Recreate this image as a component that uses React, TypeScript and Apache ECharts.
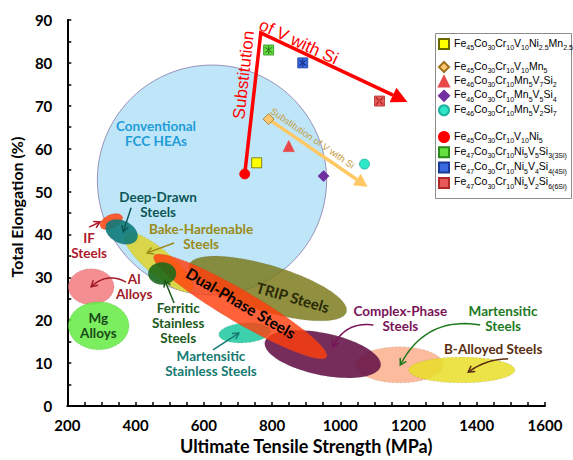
import { useEffect, useRef } from 'react';
import * as echarts from 'echarts';

// ---------- data ----------
const alloyNames = [
  'Fe45Co30Cr10V10Ni2.5Mn2.5',
  'Fe45Co30Cr10V10Mn5',
  'Fe46Co30Cr10Mn5V7Si2',
  'Fe46Co30Cr10Mn5V5Si4',
  'Fe46Co30Cr10Mn5V2Si7',
  'Fe45Co30Cr10V10Ni5',
  'Fe47Co30Cr10Ni5V5Si3(3Si)',
  'Fe47Co30Cr10Ni5V4Si4(4Si)',
  'Fe47Co30Cr10Ni5V2Si6(6Si)',
];
const alloyUTS = [755, 790, 849, 951, 1071, 720, 790, 890, 1115];
const alloyElongation = [56.7, 66.9, 60.6, 53.6, 56.4, 54.1, 83.0, 80.0, 71.1];

// material classes: ends of major axis (UTS MPa, elongation %) and half width (%)
const regionNames = [
  'Conventional FCC HEAs', 'TRIP Steels', 'Martensitic Steels', 'Complex-Phase Steels',
  'B-Alloyed Steels', 'Martensitic Stainless Steels', 'Bake-Hardenable Steels', 'Dual-Phase Steels',
  'Ferritic Stainless Steels', 'IF Steels', 'Deep-Drawn Steels', 'Al Alloys', 'Mg Alloys',
];
const regionStart = [
  [288, 52.7], [557, 32.9], [1045, 9.6], [779, 14.9], [1200, 8.4], [644, 16.6], [369, 40.1],
  [454, 35.0], [437, 30.9], [297, 41.8], [314, 42.3], [203, 27.8], [203, 18.7],
];
const regionEnd = [
  [960, 52.7], [1018, 21.9], [1302, 9.6], [1118, 9.3], [1512, 8.4], [796, 17.5], [566, 26.9],
  [960, 11.4], [519, 30.9], [361, 44.2], [404, 38.9], [337, 27.8], [381, 18.7],
];
const regionHalfWidth = [26.8, 5.4, 4.2, 4.9, 3.0, 2.3, 3.0, 3.7, 2.6, 1.6, 2.6, 4.2, 5.6];

const regionLabels = [
  'Conventional\nFCC HEAs', 'TRIP Steels', 'Martensitic\nSteels', 'Complex-Phase\nSteels',
  'B-Alloyed Steels', 'Martensitic\nStainless Steels', 'Bake-Hardenable\nSteels', 'Dual-Phase Steels',
  'Ferritic\nStainless\nSteels', 'IF\nSteels', 'Deep-Drawn\nSteels', 'Al\nAlloys', 'Mg\nAlloys',
];
const labelUTS = [460, 861, 1477, 1176, 1448, 621, 592, 709, 525, 264, 466, 396, 291];
const labelElongation = [63.5, 25.4, 20.3, 20.4, 13.3, 9.9, 39.5, 24.0, 19.4, 37.5, 47.0, 27.9, 18.8];
const labelTilt = [0, -16, 0, 0, 0, 0, 0, -30.5, 0, 0, 0, 0, 0];

// pointer arrows from labels to classes
const pointerRegion = [9, 10, 6, 11, 8, 5, 3, 2, 4];
const pointerFrom = [[264, 41.7], [387, 46.2], [513, 38.0], [372, 28.9], [513, 24.0], [627, 13.1], [1097, 18.9], [1410, 18.9], [1492, 11.0]];
const pointerTo = [[296, 42.9], [364, 40.6], [434, 35.7], [270, 27.8], [486, 29.2], [703, 17.0], [978, 13.8], [1176, 9.6], [1375, 7.9]];
const pointerBend = [0, 0, 0, 0.18, 0, 0, 0.18, 0.18, 0.08];

// substitution arrows
const substitutionPaths = [
  [[720, 54.1], [767, 87.0], [1197, 70.9]],
  [[790, 66.9], [1080, 51.1]],
];
const substitutionNotes = ['Substitution', 'of V with Si', 'Substitution of V with Si'];
const noteUTS = [717, 878, 919];
const noteElongation = [77.2, 84.9, 62.5];
const noteTilt = [83.5, -25, -34.5];

// ---------- styles ----------
const regionFill = [
  '#BFE6F8', 'rgba(120,120,22,0.82)', 'rgba(252,178,142,0.88)', 'rgba(104,22,74,0.9)',
  'rgba(232,222,40,0.85)', 'rgba(34,202,162,0.88)', 'rgba(222,210,42,0.85)', 'rgba(255,62,12,0.82)',
  'rgba(25,105,25,0.88)', 'rgba(255,72,22,0.88)', 'rgba(14,122,122,0.9)', 'rgba(242,122,126,0.85)',
  'rgba(104,236,72,0.88)',
];
const labelColor = [
  '#1E9CD8', '#2A2A08', '#1E7A1E', '#7A1458', '#5A2E0E', '#157A72', '#9A8A1A', '#000000',
  '#1C5A1C', '#B0182A', '#0C5656', '#A01A28', '#1A4A1A',
];
const alloySymbols = ['rect', 'diamond', 'triangle', 'diamond', 'circle', 'circle', 'rect', 'rect', 'rect'];
const alloyColors = ['#FFFF00', '#FFC870', '#E8484A', '#7030A0', '#2EE6C8', '#FF0000', '#66E040', '#3A6AE0', '#E85A5A'];
const alloyBorders = ['#6A6A00', '#A07020', '#E8484A', '#7030A0', '#20B0A0', '#FF0000', '#2A8A1A', '#1A3A9A', '#B02A2A'];
const alloySizes = [10, 11, 11, 11, 10, 10, 10, 10, 10];
const overlayMark = ['', '', '', '', '', '', 'star', 'star', 'cross'];
const overlayColor = ['', '', '', '', '', '', '#155A10', '#0A1A6A', '#A01A1A'];
const starPath = 'path://M4.6,1L5.4,1L5.4,9L4.6,9Z M2,2.6L2.6,2L8,7.4L7.4,8Z M8,2.6L7.4,2L2,7.4L2.6,8Z';
const crossPath = 'path://M2,2.7L2.7,2L8,7.3L7.3,8Z M8,2.7L7.3,2L2,7.3L2.7,8Z';
const substitutionColor = ['#FF0000', '#FFC864'];
const noteColor = ['#FF0000', '#FF0000', '#C49A3C'];
const labelFont = 'Lato';

function legendFormatter(name: string) {
  const m = name.match(/^(.*?)(\(\dSi\))?$/) as RegExpMatchArray;
  let out = m[1].replace(/([A-Za-z]+)|(\d+(?:\.\d+)?)/g, (_s: string, a: string, d: string) =>
    a ? `{n|${a}}` : `{s|${d}}`);
  if (m[2]) out += `{s|${m[2]}}`;
  return out;
}

const legendRich = {
  n: { fontFamily: 'Liberation Sans', fontSize: 10.5, color: '#000', lineHeight: 14, verticalAlign: 'top' },
  s: { fontFamily: 'Liberation Sans', fontSize: 7, color: '#000', lineHeight: 8, verticalAlign: 'bottom' },
};

function ellipsePoints(p1: number[], p2: number[], b: number) {
  const cx = (p1[0] + p2[0]) / 2;
  const cy = (p1[1] + p2[1]) / 2;
  const a = Math.hypot(p2[0] - p1[0], p2[1] - p1[1]) / 2;
  const th = Math.atan2(p2[1] - p1[1], p2[0] - p1[0]);
  const pts: number[][] = [];
  for (let k = 0; k < 96; k++) {
    const t = (k / 96) * Math.PI * 2;
    const ex = a * Math.cos(t);
    const ey = b * Math.sin(t);
    pts.push([cx + ex * Math.cos(th) - ey * Math.sin(th), cy + ex * Math.sin(th) + ey * Math.cos(th)]);
  }
  return pts;
}

function curvePoints(a: number[], b: number[], bend: number) {
  if (!bend) return [a, b];
  const dx = b[0] - a[0];
  const dy = b[1] - a[1];
  const len = Math.hypot(dx, dy);
  const cx = (a[0] + b[0]) / 2 + (-dy / len) * bend * len * 2;
  const cy = (a[1] + b[1]) / 2 + (dx / len) * bend * len * 2;
  const pts: number[][] = [];
  for (let k = 0; k <= 20; k++) {
    const t = k / 20;
    const u = 1 - t;
    pts.push([u * u * a[0] + 2 * u * t * cx + t * t * b[0], u * u * a[1] + 2 * u * t * cy + t * t * b[1]]);
  }
  return pts;
}

function headGeom(pts: number[][], len: number, half: number) {
  const tip = pts[pts.length - 1];
  const prev = pts[pts.length - 2];
  const dx = tip[0] - prev[0];
  const dy = tip[1] - prev[1];
  const l = Math.hypot(dx, dy) || 1;
  const ux = dx / l;
  const uy = dy / l;
  const base = [tip[0] - ux * len, tip[1] - uy * len];
  return {
    tip,
    base,
    left: [base[0] - uy * half, base[1] + ux * half],
    right: [base[0] + uy * half, base[1] - ux * half],
  };
}

export default function App() {
  const ref = useRef<HTMLDivElement>(null);

  useEffect(() => {
    document.body.style.margin = '0';
    const chart = echarts.init(ref.current as HTMLDivElement, null, { renderer: 'svg' });

    const scatterSeries = alloyNames.map((name, i) => ({
      name,
      type: 'scatter',
      z: 5,
      symbol: alloySymbols[i],
      symbolSize: alloySizes[i],
      itemStyle: { color: alloyColors[i], borderColor: alloyBorders[i], borderWidth: 0.8, opacity: 1 },
      data: [[alloyUTS[i], alloyElongation[i]]],
      silent: true,
    }));

    const overlaySeries = alloyNames
      .map((_n, i) => i)
      .filter((i) => overlayMark[i])
      .map((i) => ({
        name: 'mark' + i,
        type: 'scatter',
        z: 6,
        symbol: overlayMark[i] === 'star' ? starPath : crossPath,
        symbolSize: 8,
        itemStyle: { color: overlayColor[i] },
        data: [[alloyUTS[i], alloyElongation[i]]],
        silent: true,
      }));

    const axisFont = { color: '#000', fontFamily: labelFont, fontWeight: 'bold' as const, fontSize: 15 };

    const legendCommon = {
      orient: 'vertical',
      left: 438,
      padding: 0,
      itemWidth: 10,
      itemHeight: 10,
      selectedMode: false,
      formatter: legendFormatter,
      textStyle: { rich: legendRich },
    };

    const option = {
      animation: false,
      backgroundColor: '#fff',
      grid: { left: 66, right: 28, top: 20, bottom: 54 },
      xAxis: {
        type: 'value',
        min: 200,
        max: 1600,
        interval: 200,
        axisLine: { show: true, onZero: false, lineStyle: { color: '#000', width: 2 } },
        axisTick: { show: true, inside: true, length: 4, lineStyle: { color: '#000', width: 1.5 } },
        minorTick: { show: true, splitNumber: 4, length: 4, lineStyle: { color: '#000', width: 1.5 } },
        splitLine: { show: false },
        axisLabel: { ...axisFont, margin: 11, formatter: (v: number) => String(v) },
        name: 'Ultimate Tensile Strength (MPa)',
        nameLocation: 'middle',
        nameGap: 31,
        nameTextStyle: { ...axisFont, fontSize: 18 },
      },
      yAxis: {
        type: 'value',
        min: 0,
        max: 90,
        interval: 10,
        axisLine: { show: true, onZero: false, lineStyle: { color: '#000', width: 2 } },
        axisTick: { show: true, inside: true, length: 4, lineStyle: { color: '#000', width: 1.5 } },
        minorTick: { show: true, splitNumber: 2, length: 4, lineStyle: { color: '#000', width: 1.5 } },
        splitLine: { show: false },
        axisLabel: { ...axisFont, margin: 15, formatter: (v: number) => String(v) },
        name: 'Total Elongation (%)',
        nameLocation: 'middle',
        nameRotate: 90,
        nameGap: 40,
        nameTextStyle: { ...axisFont, fontSize: 16, padding: [0, 0, 0, 12] },
      },
      legend: [
        { ...legendCommon, top: 37, itemGap: 1, data: alloyNames.slice(0, 1) },
        { ...legendCommon, top: 60, itemGap: 0.4, data: alloyNames.slice(1, 5) },
        { ...legendCommon, top: 130, itemGap: 1.3, data: alloyNames.slice(5) },
      ],
      graphic: [
        {
          type: 'rect',
          z: 0,
          silent: true,
          shape: { x: 435.5, y: 33.5, width: 136, height: 165 },
          style: { fill: '#fff', stroke: '#8c8c8c', lineWidth: 1 },
        },
      ],
      series: [
        {
          name: 'regions',
          type: 'custom',
          coordinateSystem: 'cartesian2d',
          z: 1,
          silent: true,
          encode: { x: 0, y: 1 },
          data: regionNames.map((_n, i) => [regionStart[i][0], regionStart[i][1], i]),
          renderItem: (_p: any, api: any) => {
            const i = api.value(2);
            const p1 = api.coord(regionStart[i]);
            const p2 = api.coord(regionEnd[i]);
            const b = Math.abs(api.size([0, regionHalfWidth[i]])[1]);
            return {
              type: 'polygon',
              shape: { points: ellipsePoints(p1, p2, b) },
              style: i === 0
                ? { fill: regionFill[i], stroke: '#8878A8', lineWidth: 0.8 }
                : { fill: regionFill[i], stroke: 'rgba(90,90,90,0.3)', lineWidth: 0.6, lineDash: [2, 2] },
            };
          },
        },
        {
          name: 'pointers',
          type: 'custom',
          coordinateSystem: 'cartesian2d',
          z: 3,
          silent: true,
          encode: { x: 0, y: 1 },
          data: pointerRegion.map((_r, k) => [pointerFrom[k][0], pointerFrom[k][1], k]),
          renderItem: (_p: any, api: any) => {
            const k = api.value(2);
            const color = labelColor[pointerRegion[k]];
            const pts = curvePoints(api.coord(pointerFrom[k]), api.coord(pointerTo[k]), pointerBend[k]);
            const h = headGeom(pts, 6, 3.5);
            return {
              type: 'group',
              children: [
                { type: 'polyline', shape: { points: pts }, style: { stroke: color, lineWidth: 1.5, fill: null } },
                { type: 'polyline', shape: { points: [h.left, h.tip, h.right] }, style: { stroke: color, lineWidth: 1.5, fill: null } },
              ],
            };
          },
        },
        {
          name: 'substitution',
          type: 'custom',
          coordinateSystem: 'cartesian2d',
          z: 3,
          silent: true,
          encode: { x: 0, y: 1 },
          data: substitutionPaths.map((p, k) => [p[0][0], p[0][1], k]),
          renderItem: (_p: any, api: any) => {
            const k = api.value(2);
            const pts = substitutionPaths[k].map((d) => api.coord(d));
            const h = headGeom(pts, k === 0 ? 16 : 13, k === 0 ? 8 : 7);
            const linePts = pts.slice(0, -1).concat([h.base]);
            return {
              type: 'group',
              children: [
                { type: 'polyline', shape: { points: linePts }, style: { stroke: substitutionColor[k], lineWidth: 3.5, fill: null, lineJoin: 'miter' } },
                { type: 'polygon', shape: { points: [h.left, h.tip, h.right] }, style: { fill: substitutionColor[k] } },
              ],
            };
          },
        },
        ...scatterSeries,
        ...overlaySeries,
        {
          name: 'labels',
          type: 'custom',
          coordinateSystem: 'cartesian2d',
          z: 8,
          silent: true,
          encode: { x: 0, y: 1 },
          data: regionLabels.map((_l, i) => [labelUTS[i], labelElongation[i], i]),
          renderItem: (_p: any, api: any) => {
            const i = api.value(2);
            const pt = api.coord([api.value(0), api.value(1)]);
            const size = i === 7 ? 15.5 : i === 1 ? 15 : 13.5;
            return {
              type: 'text',
              x: pt[0],
              y: pt[1],
              rotation: (labelTilt[i] * Math.PI) / 180,
              style: {
                text: regionLabels[i],
                fill: labelColor[i],
                fontFamily: labelFont,
                fontWeight: 'bold',
                fontSize: size,
                lineHeight: 15,
                align: 'center',
                verticalAlign: 'middle',
              },
            };
          },
        },
        {
          name: 'notes',
          type: 'custom',
          coordinateSystem: 'cartesian2d',
          z: 8,
          silent: true,
          encode: { x: 0, y: 1 },
          data: substitutionNotes.map((_l, i) => [noteUTS[i], noteElongation[i], i]),
          renderItem: (_p: any, api: any) => {
            const i = api.value(2);
            const pt = api.coord([api.value(0), api.value(1)]);
            return {
              type: 'text',
              x: pt[0],
              y: pt[1],
              rotation: (noteTilt[i] * Math.PI) / 180,
              style: {
                text: substitutionNotes[i],
                fill: noteColor[i],
                fontFamily: 'Liberation Sans',
                fontSize: i === 2 ? 9.5 : 17,
                align: 'center',
                verticalAlign: 'middle',
              },
            };
          },
        },
      ],
    };

    chart.setOption(option as any);
    return () => chart.dispose();
  }, []);

  return <div ref={ref} style={{ width: 573, height: 460 }} />;
}
